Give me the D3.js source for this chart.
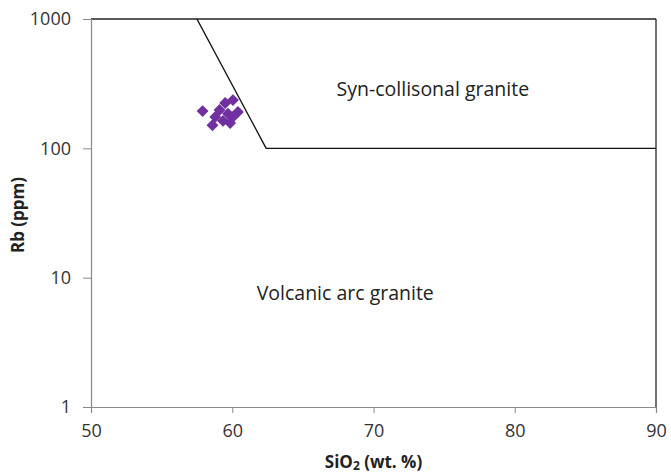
<!DOCTYPE html>
<html><head><meta charset="utf-8">
<script src="https://cdn.jsdelivr.net/npm/d3@7"></script>
<style>body{margin:0;background:#fff}svg{display:block}</style>
</head><body><svg id="c" width="671" height="473"></svg>
<script>
const xTicks = [50, 60, 70, 80, 90];
const yTicks = [1, 10, 100, 1000];
const sio2 = [57.9, 58.6, 58.8, 59.1, 59.5, 60.05, 59.35, 59.85, 60.05, 60.4, 59.7];
const rb   = [194, 151, 175, 198, 224, 236, 163, 157, 175, 191, 185];
const boundaryX = [57.5, 62.4, 90];
const boundaryY = [1000, 100, 100];
const regionLabels = ["Syn-collisonal granite", "Volcanic arc granite"];
const regionX = [74.2, 68];
const regionY = [277, 7.35];

const svg = d3.select("#c");
const m = {l:91, r:656, t:19, b:407};
const x = d3.scaleLinear().domain([50,90]).range([m.l, m.r]);
const y = d3.scaleLog().domain([1,1000]).range([m.b, m.t]);
const font = "'Open Sans', sans-serif";

// frame top & right
svg.append("line").attr("x1",x(50)).attr("x2",x(90)).attr("y1",y(1000)).attr("y2",y(1000)).attr("stroke","#222").attr("stroke-width",1.3);
svg.append("line").attr("x1",x(90)).attr("x2",x(90)).attr("y1",y(1000)).attr("y2",y(1)).attr("stroke","#222").attr("stroke-width",1.3);

const xa = svg.append("g").attr("transform",`translate(0,${m.b})`)
  .call(d3.axisBottom(x).tickValues(xTicks).tickSize(6).tickPadding(11).tickFormat(d3.format("d")));
const ya = svg.append("g").attr("transform",`translate(${m.l},0)`)
  .call(d3.axisLeft(y).tickValues(yTicks).tickSize(7).tickPadding(13).tickFormat(d3.format("d")));
[xa,ya].forEach(a=>{
  a.select(".domain").attr("stroke","#888").attr("stroke-width",1.2);
  a.selectAll(".tick line").attr("stroke","#888");
  a.selectAll(".tick text").attr("font-family",font).attr("font-size",18).attr("fill","#333");
});
ya.selectAll(".tick line").attr("x2",-8);

// boundary
const line = d3.line().x(d=>x(d[0])).y(d=>y(d[1]));
svg.append("path").datum(boundaryX.map((v,i)=>[v,boundaryY[i]]))
  .attr("d",line).attr("fill","none").attr("stroke","#111").attr("stroke-width",1.4);

// points
svg.append("g").selectAll("path").data(sio2.map((v,i)=>[v,rb[i]])).join("path")
  .attr("transform",d=>`translate(${x(d[0])},${y(d[1])})`)
  .attr("d",d3.symbol(d3.symbolDiamond2,90)())
  .attr("fill","#7030a0");

// region labels
svg.append("g").selectAll("text").data(regionLabels).join("text")
  .attr("x",(d,i)=>x(regionX[i])).attr("y",(d,i)=>y(regionY[i]))
  .attr("text-anchor","middle").attr("dominant-baseline","middle")
  .attr("font-family",font).attr("font-size",19.5).attr("fill","#222").text(d=>d);

// axis titles
const xt = svg.append("text").attr("x",(m.l+m.r)/2).attr("y",468).attr("text-anchor","middle")
  .attr("font-family",font).attr("font-size",17).attr("font-weight","bold").attr("fill","#222");
xt.append("tspan").text("SiO");
xt.append("tspan").attr("font-size",12).attr("dy",2).text("2");
xt.append("tspan").attr("dy",-2).text(" (wt. %)");
svg.append("text").attr("transform","translate(24,215) rotate(-90)").attr("text-anchor","middle")
  .attr("font-family",font).attr("font-size",17).attr("font-weight","bold").attr("fill","#222").text("Rb (ppm)");
</script></body></html>
